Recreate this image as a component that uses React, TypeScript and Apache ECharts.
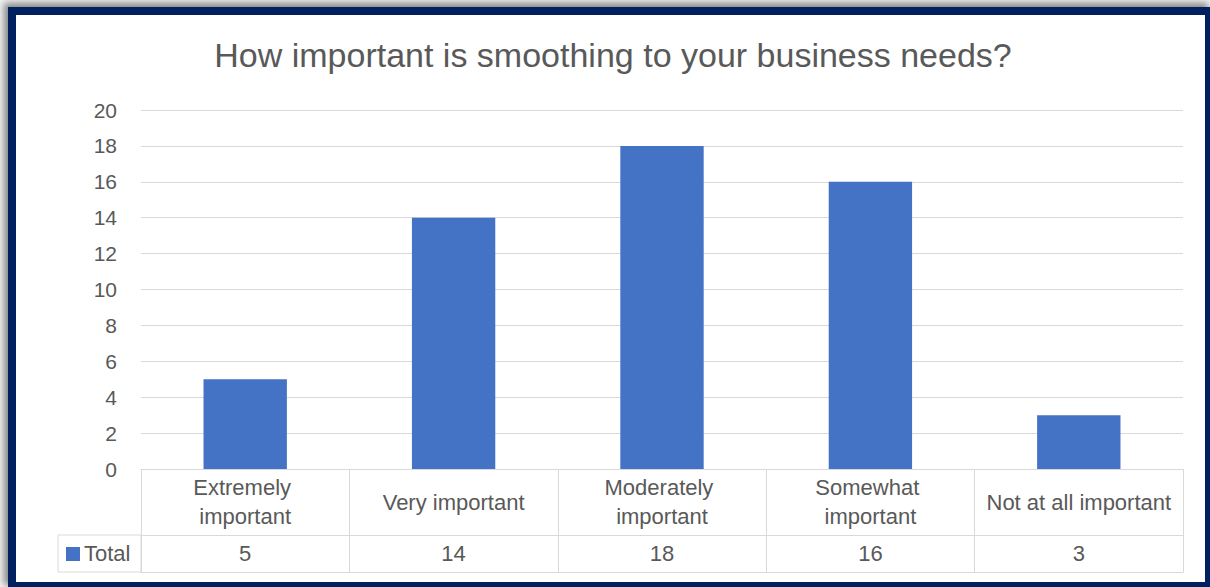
import React, { useEffect, useRef } from "react";
import * as echarts from "echarts";

const titleText = "How important is smoothing to your business needs?";
const categories = [
  "Extremely important",
  "Very important",
  "Moderately important",
  "Somewhat important",
  "Not at all important",
];
const totals = [5, 14, 18, 16, 3];
const seriesName = "Total";
const yMin = 0;
const yMax = 20;
const yStep = 2;

const FONT = "Liberation Sans, Arial, sans-serif";
const TEXT = "#595959";
const GRID = "#D9D9D9";
const BAR = "#4472C4";

export default function App() {
  const ref = useRef<HTMLDivElement>(null);

  useEffect(() => {
    if (!ref.current) return;
    const chart = echarts.init(ref.current, undefined, { renderer: "svg" });
    chart.setOption({
      animation: false,
      textStyle: { fontFamily: FONT },
      title: {
        text: titleText,
        left: 608,
        top: 33,
        textAlign: "center",
        textStyle: { fontFamily: FONT, fontSize: 34, fontWeight: "normal", color: TEXT },
      },
      grid: { left: 141, right: 27, top: 110, bottom: 118, containLabel: false },
      xAxis: [
        {
          type: "category",
          data: categories,
          position: "bottom",
          axisLine: { show: true, lineStyle: { color: GRID, width: 1 } },
          axisTick: { show: true, interval: 0, length: 103, lineStyle: { color: GRID, width: 1 } },
          axisLabel: {
            interval: 0,
            color: TEXT,
            fontSize: 22,
            fontFamily: FONT,
            lineHeight: 29,
            verticalAlign: "middle",
            margin: 33,
            width: 194,
            overflow: "break",
          },
        },
        {
          type: "category",
          data: totals.map((v) => String(v)),
          position: "bottom",
          offset: 66,
          axisLine: { show: true, lineStyle: { color: GRID, width: 1 } },
          axisTick: { show: true, interval: 0, length: 37, lineStyle: { color: GRID, width: 1 } },
          axisLabel: {
            interval: 0,
            color: TEXT,
            fontSize: 22,
            fontFamily: FONT,
            verticalAlign: "middle",
            margin: 18,
          },
        },
        {
          type: "category",
          data: categories,
          position: "bottom",
          offset: 103,
          axisLine: { show: true, lineStyle: { color: GRID, width: 1 } },
          axisTick: { show: false },
          axisLabel: { show: false },
        },
      ],
      yAxis: {
        type: "value",
        min: yMin,
        max: yMax,
        interval: yStep,
        axisLine: { show: false },
        axisTick: { show: false },
        splitLine: { show: true, lineStyle: { color: GRID, width: 1 } },
        axisLabel: { color: TEXT, fontSize: 21, fontFamily: FONT, margin: 24 },
      },
      series: [
        {
          name: seriesName,
          type: "bar",
          xAxisIndex: 0,
          data: totals,
          barWidth: "40%",
          itemStyle: { color: BAR },
        },
      ],
      graphic: [
        {
          type: "rect",
          shape: { x: 58, y: 535, width: 83, height: 37 },
          style: { fill: "none", stroke: GRID, lineWidth: 1 },
          silent: true,
        },
        {
          type: "rect",
          shape: { x: 66, y: 547, width: 14, height: 14 },
          style: { fill: BAR },
          silent: true,
        },
        {
          type: "text",
          x: 84,
          y: 553,
          style: {
            text: seriesName,
            fill: TEXT,
            fontSize: 22,
            fontFamily: FONT,
            verticalAlign: "middle",
            align: "left",
          },
          silent: true,
        },
      ],
    });
    return () => chart.dispose();
  }, []);

  return (
    <div
      style={{
        position: "fixed",
        left: 0,
        top: 0,
        width: 1210,
        height: 587,
        overflow: "hidden",
        background: "#f2f2f2",
      }}
    >
      <div
        style={{
          position: "absolute",
          left: 8,
          top: 7,
          width: 1202,
          height: 580,
          boxSizing: "border-box",
          borderStyle: "solid",
          borderColor: "#002060",
          borderWidth: "8px 5px 5px 8px",
          background: "#ffffff",
          boxShadow: "-3px -3px 7px 1px rgba(0,0,0,0.45)",
        }}
      />
      <div
        ref={ref}
        style={{ position: "absolute", left: 0, top: 0, width: 1210, height: 587 }}
      />
    </div>
  );
}
